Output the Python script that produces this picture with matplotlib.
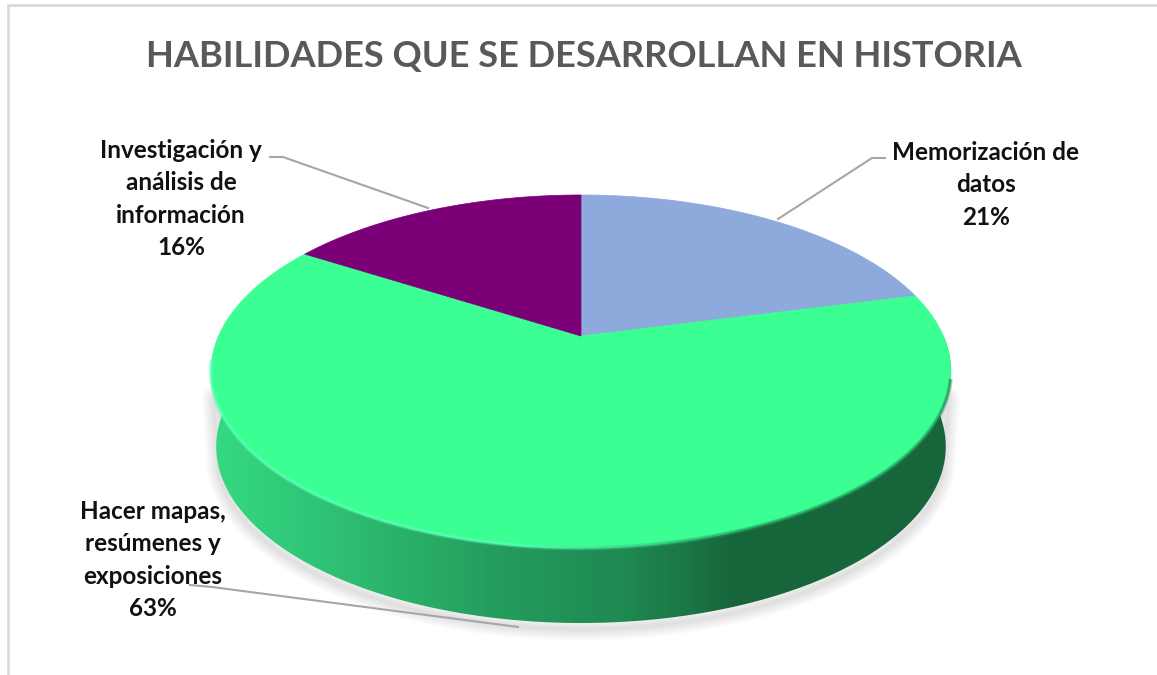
import numpy as np
import matplotlib
matplotlib.use("Agg")
import matplotlib.pyplot as plt
from matplotlib.patches import Polygon
from matplotlib.collections import LineCollection
from matplotlib.colors import LinearSegmentedColormap, to_rgb

#Datos
titulo = "HABILIDADES QUE SE DESARROLLAN EN HISTORIA"
categorias = ["Memorización de\ndatos", "Hacer mapas,\nresúmenes y\nexposiciones", "Investigación y\nanálisis de\ninformación"]
valores = [21, 63, 16]
colores = ["#8EA9DB", "#3BFF93", "#7B0078"]

plt.rcParams["font.family"] = ["Lato", "DejaVu Sans"]

fig = plt.figure(figsize=(11.57, 6.75), dpi=100)
ax = fig.add_axes([0, 0, 1, 1])
ax.set_xlim(0, 1157)
ax.set_ylim(675, 0)
ax.axis("off")

#Perspectiva del pastel: angulo en grados, horario desde arriba
cx, cy0 = 581, 336
c, a, k = 0.2011, -101.8, 362.4
prof = 75

def punto(ang, r=1.0, z=0.0):
    t = np.radians(ang)
    x = r * np.sin(t)
    y = r * np.cos(t)
    w = 1 + c * y
    return cx + k * x / w * (1 - 0.014 * z), (a * y + cy0) / w + prof * z

def arco(a1, a2, z=0.0, n=200):
    return np.column_stack(punto(np.linspace(a1, a2, n), 1.0, z))

#Sombra
lado = np.vstack([arco(90, 270, 0), arco(270, 90, 1)])
sombra = np.vstack([arco(108, 252, 0), arco(252, 108, 1)]) + np.array([0, 6])
for ancho in range(2, 24, 3):
    ax.add_patch(Polygon(sombra, closed=True, fc="none", ec="#000000", lw=ancho * 0.72, alpha=0.014, joinstyle="round"))

#Lado con degradado
pos = [(200, "#35DC83"), (300, "#30C878"), (400, "#2AB169"), (500, "#249C5C"), (620, "#1F8A52"), (690, "#1B7546"), (735, "#17663B"), (960, "#17663B")]
x0, x1 = pos[0][0], pos[-1][0]
cmap = LinearSegmentedColormap.from_list("lado", [((p - x0) / (x1 - x0), col) for p, col in pos])
img = ax.imshow(np.linspace(0, 1, 512)[None, :], extent=[x0, x1, 675, 0], cmap=cmap, aspect="auto", zorder=2)
parche = Polygon(lado, closed=True, fc="none", ec="none", transform=ax.transData)
ax.add_patch(parche)
img.set_clip_path(parche)
ax.set_xlim(0, 1157)
ax.set_ylim(675, 0)

#Rebanadas
inicio = 0.0
total = sum(valores)
for v, col in zip(valores, colores):
    fin = inicio + 360.0 * v / total
    borde = arco(inicio, fin)
    ax.add_patch(Polygon(np.vstack([[cx, cy0], borde]), closed=True, fc=col, ec=col, lw=0.5, zorder=3))
    inicio = fin

#Brillo del borde
angs = np.linspace(104, 262, 300)
xr, yr = punto(angs, 1.0, 0.0)
pts = np.column_stack([xr, yr]).reshape(-1, 1, 2)
segs = np.concatenate([pts[:-1], pts[1:]], axis=1)
claro = np.array(to_rgb("#5BFFBA"))
oscuro = np.array(to_rgb("#1E8A52"))
mezcla = np.clip((xr[:-1] - 520) / 240, 0, 1)[:, None]
cols = claro * (1 - mezcla) + oscuro * mezcla
ax.add_collection(LineCollection(segs, colors=cols, linewidths=3.2, alpha=0.35, zorder=4))
ax.add_collection(LineCollection(segs, colors=cols, linewidths=1.6, alpha=0.6, zorder=4))

#Lineas guia
guias = [[(885, 158), (872, 158), (778, 219)],
         [(190, 585), (212, 587), (518, 627)],
         [(270, 157), (283, 157), (428, 208)]]
for g in guias:
    g = np.array(g)
    ax.plot(g[:, 0], g[:, 1], color="#A6A6A6", lw=1.5, zorder=5)

#Textos
ax.text(584, 57, titulo, ha="center", va="center", fontsize=26.1, fontweight="bold", color="#595959", zorder=6)
pos_txt = [(986, 185), (153, 560), (181, 199)]
for nom, v, (tx, ty) in zip(categorias, valores, pos_txt):
    ax.text(tx, ty, nom + "\n" + str(v) + "%", ha="center", va="center", fontsize=17.5, fontweight="bold",
            color="#111111", linespacing=1.5, zorder=6)

#Marco
ax.plot([8, 8, 1157], [675, 5, 5], color="#D9D9D9", lw=2, zorder=1)

fig.savefig("out.png", dpi=100)
